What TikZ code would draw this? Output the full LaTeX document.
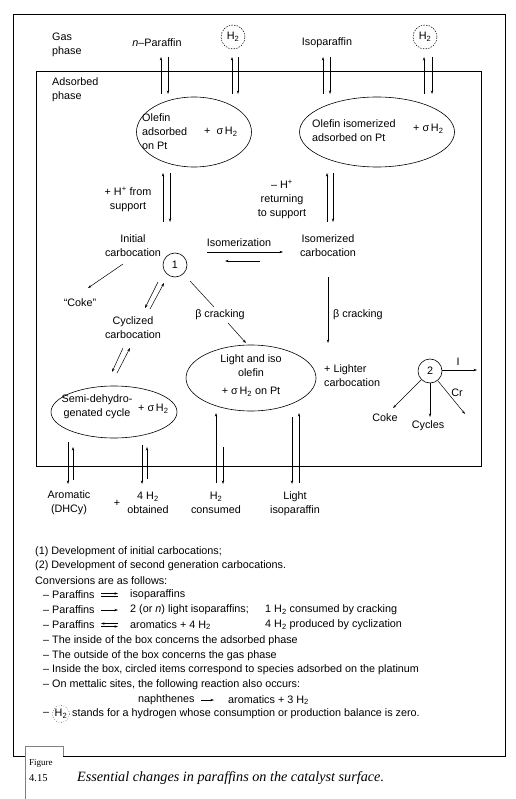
\documentclass[tikz,border=0pt]{standalone}
\usepackage{fontspec}
\setmainfont{Liberation Sans}
\newfontfamily\capfont{Liberation Serif}
\usetikzlibrary{shapes.geometric,arrows.meta}
\begin{document}
\begin{tikzpicture}[x=1pt,y=-1pt,
  font=\fontsize{10.8}{14}\selectfont,
  lbl/.style={inner sep=0pt, align=center},
  lft/.style={inner sep=0pt, anchor=west, align=left},
  arr/.style={-{Stealth[length=3.6pt,width=2.4pt]}, line width=0.5pt},
  ln/.style={line width=0.5pt},
  ell/.style={draw, ellipse, line width=0.6pt, inner sep=0pt},
  circ/.style={draw, circle, line width=0.6pt, inner sep=0pt, minimum size=24pt},
  dcirc/.style={draw, circle, dashed, dash pattern=on 1.5pt off 1.2pt, line width=0.5pt, inner sep=0pt, minimum size=24pt},
  frame/.style={line width=0.7pt}]
\useasboundingbox (0,0) rectangle (515,799);

% frames
\draw[frame] (25,756) -- (13,756) -- (13,14) -- (505,14) -- (505,756) -- (63,756);
\draw[line width=0.4pt, gray] (25,799) -- (25,746) -- (63,746) -- (63,756);
\draw[frame] (36,71) rectangle (481,466);

% gas phase
\node[lft] (gas) at (52,45) {Gas\\phase};
\node[lft] (ads) at (52,90) {Adsorbed\\phase};
\node[lbl] (npar) at (157,43) {\textit{n}–Paraffin};
\node[dcirc] (h2a) at (233,37) {H\textsubscript{2}};
\node[lbl] (ipar) at (327,43) {Isoparaffin};
\node[dcirc] (h2b) at (425,37) {H\textsubscript{2}};

% olefin ellipses
\node[ell, minimum width=115pt, minimum height=70pt] (ol1) at (194,132) {};
\node[lft] (ol1t) at (142,132) {Olefin\\adsorbed\\on Pt};
\node[lft] (ol1h) at (204,132) {+\ \ σ\,H\textsubscript{2}};
\node[ell, minimum width=155pt, minimum height=70pt] (ol2) at (377,132) {};
\node[lft] (ol2t) at (312,131) {Olefin isomerized\\adsorbed on Pt};
\node[lft] (ol2h) at (413,129) {+ σ\,H\textsubscript{2}};

% gas arrows
\foreach \u/\d in {161/168, 232/238, 323/330, 424/432}{
  \draw[arr] (\u,94) -- (\u,57);
  \draw[arr] (\d,57) -- (\d,94);
}

% olefin <-> carbocations
\draw[arr] (163,222) -- (163,173);
\draw[arr] (170,173) -- (170,222);
\draw[arr] (327,222) -- (327,173);
\draw[arr] (333,173) -- (333,222);
\node[lbl] (hplus) at (128,199) {+ H\textsuperscript{+} from\\support};
\node[lbl] (hminus) at (282,199) {– H\textsuperscript{+}\\returning\\to support};

% carbocations
\node[lbl] (initc) at (133,246) {Initial\\carbocation};
\node[circ] (c1) at (175,265) {1};
\node[lbl] (isomz) at (239,243) {Isomerization};
\draw[arr] (207,252) -- (283,252);
\draw[arr] (260,261) -- (225,261);
\node[lbl] (isoc) at (328,246) {Isomerized\\carbocation};

\draw[arr] (123,264) -- (88,288);
\node[lbl] (coke1) at (80,303) {“Coke”};

\draw[arr] (158,282) -- (145,308);
\draw[arr] (150,309) -- (164,283);
\node[lbl] (cycc) at (133,328) {Cyclized\\carbocation};

\draw[ln] (190,281) -- (214,307);
\node[lbl] (bc1) at (220,315) {β cracking};
\draw[arr] (228,323) -- (246,343);

\draw[arr] (328,277) -- (328,343);
\node[lft] (bc2) at (333,315) {β cracking};

\draw[arr] (123,348) -- (112,372);
\draw[arr] (117,373) -- (130,348);

% lower ellipses
\node[ell, minimum width=126pt, minimum height=52pt] (semi) at (114,412) {};
\node[lbl] (semit) at (97,407) {Semi-dehydro-\\genated cycle};
\node[lft] (semih) at (138,409) {+\ σ\,H\textsubscript{2}};

\node[ell, minimum width=130pt, minimum height=66pt] (light) at (251,378) {};
\node[lbl] (lightt) at (251,366) {Light and iso\\olefin};
\node[lbl] (lighth) at (251,392) {+ σ\,H\textsubscript{2} on Pt};

\node[lft] (lighter) at (324,376) {+ Lighter\\carbocation};

% second generation
\node[circ] (c2) at (430,371) {2};
\draw[arr] (442,370) -- (477,370);
\node[lbl] (ii) at (458,362) {I};
\draw[arr] (421,380) -- (393,408);
\node[lbl] (coke2) at (385,418) {Coke};
\draw[arr] (430,383) -- (430,417);
\node[lbl] (cycles) at (428,426) {Cycles};
\draw[arr] (438,381) -- (465,414);
\node[lbl] (cr) at (457,393) {Cr};

% bottom arrows
\draw[arr] (68,442) -- (68,484);
\draw[arr] (73,480) -- (73,447);
\draw[arr] (142,445) -- (142,484);
\draw[arr] (147,479) -- (147,447);
\draw[arr] (216,483) -- (216,413);
\draw[arr] (223,447) -- (223,484);
\draw[arr] (292,417) -- (292,484);
\draw[arr] (299,483) -- (299,413);

\node[lbl] (arom) at (69,503) {Aromatic\\(DHCy)};
\node[lbl] (plus) at (117,503) {+};
\node[lbl] (h2o) at (148,503) {4 H\textsubscript{2}\\obtained};
\node[lbl] (h2c) at (216,503) {H\textsubscript{2}\\consumed};
\node[lbl] (liso) at (295,504) {Light\\isoparaffin};

% legend text
\node[lft] (l1) at (35,552) {(1) Development of initial carbocations;};
\node[lft] (l2) at (35,566) {(2) Development of second generation carbocations.};
\node[lft] (l3) at (35,581) {Conversions are as follows:};
\node[lft] (l4) at (43,595) {– Paraffins};
\draw[arr] (101,593.5) -- (118,593.5);
\draw[ln] (101,596.5) -- (118,596.5);
\node[lft] (l4b) at (130,595) {isoparaffins};
\node[lft] (l5) at (43,610) {– Paraffins};
\draw[arr] (101,610) -- (118,610);
\node[lft] (l5b) at (130,610) {2 (or \textit{n}) light isoparaffins;};
\node[lft] (l5c) at (265,610) {1 H\textsubscript{2} consumed by cracking};
\node[lft] (l6) at (43,625) {– Paraffins};
\draw[arr] (118,623.5) -- (101,623.5);
\draw[arr] (101,626.5) -- (118,626.5);
\node[lft] (l6b) at (130,625) {aromatics + 4 H\textsubscript{2}};
\node[lft] (l6c) at (265,625) {4 H\textsubscript{2} produced by cyclization};
\node[lft] (l7) at (43,641) {– The inside of the box concerns the adsorbed phase};
\node[lft] (l8) at (43,656) {– The outside of the box concerns the gas phase};
\node[lft] (l9) at (43,670) {– Inside the box, circled items correspond to species adsorbed on the platinum};
\node[lft] (l10) at (43,685) {– On mettalic sites, the following reaction also occurs:};
\node[lft] (l11) at (138,700) {naphthenes};
\draw[arr] (201,700) -- (214,700);
\node[lft] (l11b) at (228,700) {aromatics + 3 H\textsubscript{2}};
\node[lft] (l12) at (43,714) {–};
\node[draw, circle, dotted, line width=0.5pt, inner sep=0pt, minimum size=17pt] (h2c3) at (61,714) {H\textsubscript{2}};
\node[lft] (l12b) at (72,714) {stands for a hydrogen whose consumption or production balance is zero.};

% caption
\node[lft, font=\capfont\fontsize{9}{10}\selectfont] (fig) at (29,763) {Figure};
\node[lft, font=\capfont\fontsize{10.5}{12}\selectfont] (fnum) at (29,778) {4.15};
\node[lft, font=\capfont\itshape\fontsize{14.2}{15}\selectfont] (fcap) at (77,778) {Essential changes in paraffins on the catalyst surface.};
\end{tikzpicture}
\end{document}
